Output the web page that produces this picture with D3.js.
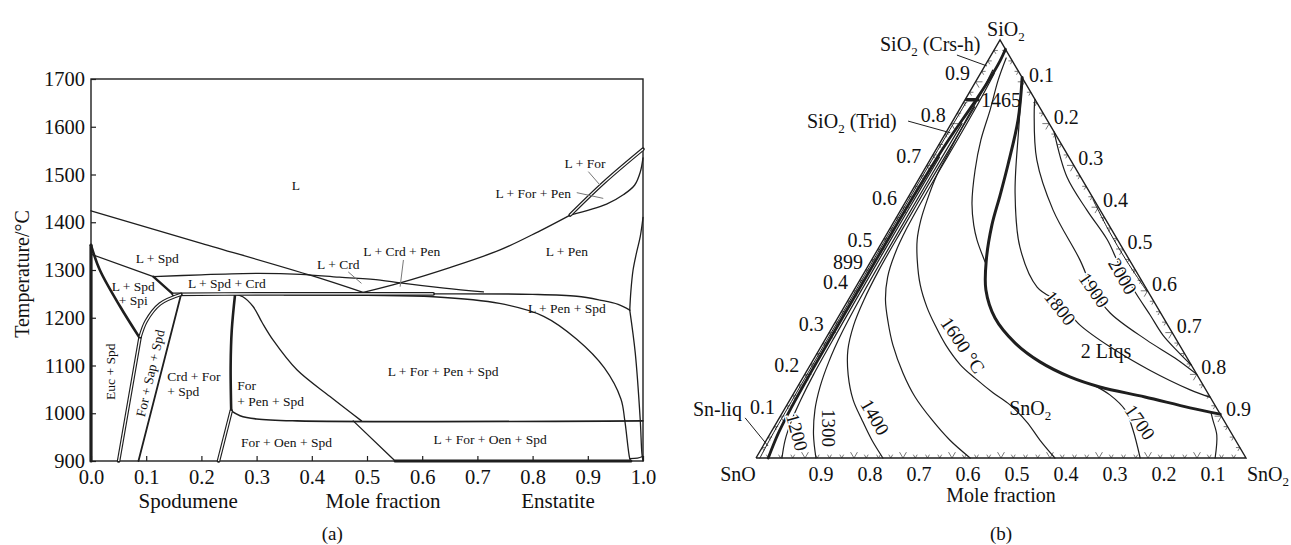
<!DOCTYPE html>
<html>
<head>
<meta charset="utf-8">
<script src="https://cdn.jsdelivr.net/npm/d3@7"></script>
<style>
  html,body{margin:0;padding:0;background:#fff;}
  svg text{font-family:"Liberation Serif","Times New Roman",Times,serif;fill:#111;}
</style>
</head>
<body>
<svg id="chart" width="1291" height="545"></svg>
<script>
// ================= Panel (a): Spodumene – Enstatite (x, T °C) =================
const tempTicks = [900,1000,1100,1200,1300,1400,1500,1600,1700];
const fracTicks = [0,0.1,0.2,0.3,0.4,0.5,0.6,0.7,0.8,0.9,1.0];
const axisNamesA = ["Spodumene","Mole fraction","Enstatite"];
const axisNamePosA = [0.176,0.529,0.846];

const liqLeft    = [[0,1424],[0.2,1356],[0.4,1288],[0.493,1253]];
const liqRight   = [[0.493,1253],[0.56,1273],[0.65,1305],[0.741,1342],[0.81,1380],[0.868,1415]];
const forLiq     = [[0.868,1415],[0.93,1484],[1.0,1553]];
const forPen     = [[0.868,1415],[0.934,1438],[0.965,1458],[0.985,1478],[0.995,1505],[1.0,1535]];
const penLiq     = [[1.0,1410],[0.995,1370],[0.988,1335],[0.982,1300],[0.978,1255],[0.976,1216]];
const penSolvus  = [[0.976,1216],[0.986,1126],[0.995,986],[0.998,916],[1.0,900]];
const penSpdTop  = [[0.6,1250],[0.8,1249],[0.88,1245],[0.922,1237],[0.955,1228],[0.976,1216]];
const eutectic   = [[0.149,1249],[0.3,1250],[0.5,1250],[0.62,1250]];
const penSpdDome = [[0.35,1248],[0.5,1247],[0.62,1244],[0.74,1230],[0.82,1203],[0.88,1155],[0.93,1095],[0.96,1030],[0.967,985],[0.976,905],[0.978,900]];
const crdTop     = [[0.113,1286],[0.2,1290],[0.3,1293],[0.38,1291],[0.45,1285],[0.524,1279],[0.56,1273],[0.64,1262],[0.711,1254]];
const spdLiq     = [[0,1333],[0.113,1286]];
const spdSpi     = [[0.113,1286],[0.149,1249]];
const spiLeft    = [[0,1352],[0.016,1300],[0.053,1223],[0.087,1160]];
const eucLine    = [[0.089,1160],[0.05,900]];
const sapTop     = [[0.089,1160],[0.1,1193],[0.125,1229],[0.163,1249]];
const crdForLine = [[0.163,1248],[0.086,900]];
const forPenVert = [[0.261,1249],[0.255,1174],[0.253,1100],[0.254,1005]];
const forPenLow  = [[0.254,1005],[0.231,900]];
const penDome    = [[0.261,1249],[0.275,1244],[0.294,1223],[0.31,1190],[0.33,1153],[0.373,1091],[0.433,1035],[0.49,984]];
const oenLine    = [[0.254,1005],[0.27,995],[0.3,988],[0.373,984],[1.0,984]];
const oenDiag    = [[0.475,984],[0.551,900]];
const bottomBand = [[0.551,900],[0.978,900]];
const cornerRight= [[0.976,905],[0.99,906],[1.0,910]];
const leftAxisBand = [[0,900],[0,1352]];

const phaseLabelsA = [
 ["L",0.371,1478,"middle",0],
 ["L + Spd",0.12,1324,"middle",0],
 ["L + Spd",0.0766,1265,"middle",0],
 ["+ Spi",0.0766,1237,"middle",0],
 ["L + Spd + Crd",0.246,1272,"middle",0],
 ["L + Crd",0.448,1313,"middle",0],
 ["L + Crd + Pen",0.563,1340,"middle",0],
 ["L + Pen",0.862,1340,"middle",0],
 ["L + Pen + Spd",0.862,1220,"middle",0],
 ["L + For",0.895,1523,"middle",0],
 ["L + For + Pen",0.801,1461,"middle",0],
 ["L + For + Pen + Spd",0.638,1087,"middle",0],
 ["L + For + Oen + Spd",0.723,945,"middle",0],
 ["For + Oen + Spd",0.354,940,"middle",0],
 ["For",0.265,1059,"start",0],
 ["+ Pen + Spd",0.265,1026,"start",0],
 ["Crd + For",0.138,1077,"start",0],
 ["+ Spd",0.138,1045,"start",0],
 ["Euc + Spd",0.0357,1087,"middle",-90],
 ["For + Sap + Spd",0.107,1084,"middle",-77]
];
const leadersA = [
 [[0.466,1296],[0.49,1272]],
 [[0.566,1321],[0.56,1265]],
 [[0.901,1506],[0.922,1478]],
 [[0.88,1462],[0.928,1450]]
];

// ================= Panel (b): SnO – SnO2 – SiO2 ternary ([xSnO2, xSiO2]) =================
const ternVertices = [[0,0],[1,0],[0,1]];       // SnO, SnO2, SiO2
const edgeLabelVals = [0.1,0.2,0.3,0.4,0.5,0.6,0.7,0.8,0.9];

const snLiqEdge = [[0.008,0],[0.006,0.05],[0.005,0.15],[0.004,0.4],[0.004,0.7],[0.005,0.85]];
const sio2Sat   = [[0.025,0],[0.016,0.06],[0.012,0.12],[0.01,0.2],[0.009,0.35],[0.009,0.5],[0.01,0.65],[0.014,0.76],[0.021,0.84],[0.025,0.9],[0.025,0.95],[0.022,0.978]];
const tie1465   = [[0.003,0.857],[0.026,0.857]];
const iso1200 = [[0.053,0],[0.038,0.043],[0.028,0.09],[0.022,0.14],[0.018,0.2],[0.016,0.3],[0.015,0.45],[0.015,0.6],[0.016,0.72]];
const iso1300 = [[0.1224,0],[0.09,0.055],[0.063,0.115],[0.046,0.17],[0.034,0.23],[0.026,0.3],[0.022,0.4],[0.021,0.55],[0.021,0.68],[0.022,0.8]];
const iso1400 = [[0.259,0],[0.215,0.043],[0.171,0.091],[0.129,0.139],[0.089,0.199],[0.059,0.258],[0.041,0.318],[0.032,0.378],[0.027,0.45],[0.026,0.55],[0.026,0.66],[0.027,0.76],[0.028,0.84]];
const iso1500 = [[0.437,0],[0.374,0.043],[0.314,0.091],[0.252,0.146],[0.199,0.203],[0.145,0.27],[0.109,0.323],[0.076,0.378],[0.053,0.433],[0.04,0.49],[0.034,0.55],[0.032,0.65],[0.032,0.75],[0.031,0.85],[0.028,0.92]];
const iso1600 = [[0.61,0],[0.558,0.043],[0.51,0.086],[0.455,0.127],[0.406,0.156],[0.352,0.191],[0.306,0.223],[0.253,0.27],[0.207,0.318],[0.169,0.361],[0.129,0.414],[0.093,0.474],[0.069,0.522],[0.053,0.569],[0.042,0.617],[0.032,0.677],[0.029,0.737],[0.026,0.804],[0.025,0.868],[0.021,0.928]];
const iso1700Up  = [[0.034,0.957],[0.044,0.904],[0.063,0.833],[0.08,0.761],[0.104,0.689],[0.137,0.61],[0.167,0.557],[0.191,0.522],[0.234,0.469]];
const iso1700Low = [[0.784,0],[0.736,0.067],[0.696,0.115],[0.647,0.151],[0.601,0.175]];
const twoLiq  = [[0.09,0.91],[0.132,0.809],[0.165,0.701],[0.185,0.629],[0.204,0.557],[0.234,0.474],[0.269,0.402],[0.321,0.335],[0.392,0.275],[0.465,0.23],[0.544,0.194],[0.617,0.17],[0.721,0.146],[0.826,0.12],[0.895,0.105]];
const innerRight = [[0.937,0],[0.913,0.055],[0.887,0.091],[0.875,0.108]];
const iso1800 = [[0.0905,0.9095],[0.142,0.792],[0.213,0.634],[0.287,0.505],[0.37,0.409],[0.436,0.371],[0.503,0.318],[0.59,0.266],[0.699,0.21],[0.805,0.163],[0.855,0.145]];
const iso1900 = [[0.142,0.858],[0.153,0.833],[0.218,0.713],[0.311,0.593],[0.425,0.474],[0.488,0.402],[0.55,0.347],[0.657,0.282],[0.736,0.239],[0.8,0.2]];
const iso2000 = [[0.22,0.78],[0.3,0.672],[0.38,0.593],[0.457,0.522],[0.505,0.469],[0.576,0.397],[0.634,0.342],[0.684,0.294],[0.735,0.254],[0.778,0.222]];
const edgeLens = [[0.38,0.618],[0.45,0.543],[0.52,0.473],[0.6,0.398]];

const isoLabelsB = [
 ["1200",0.053,0.062,75],
 ["1300",0.113,0.072,90],
 ["1400",0.194,0.098,60],
 ["1600 °C",0.288,0.27,56],
 ["1700",0.741,0.086,55],
 ["1800",0.442,0.359,52],
 ["1900",0.49,0.402,55],
 ["2000",0.532,0.435,60]
];
const leadersB = [
 [[-0.07,0.964],[0.004,0.938]],
 [[-0.091,0.806],[0.009,0.778]],
 [[-0.07,0.096],[0.010,0.029]]
];

// ================= drawing =================
const svg = d3.select("#chart");
const INK = "#1e1e1e";
const FONT = "Liberation Serif";

// ---------- panel (a) ----------
const xA = d3.scaleLinear().domain([0,1]).range([91,643]);
const yA = d3.scaleLinear().domain([900,1700]).range([461,79]);
const gA = svg.append("g");
const lineA = d3.line().x(d=>xA(d[0])).y(d=>yA(d[1])).curve(d3.curveCatmullRom.alpha(0.5));

gA.append("rect")
  .attr("x",xA(0)).attr("y",yA(1700))
  .attr("width",xA(1)-xA(0)).attr("height",yA(900)-yA(1700))
  .attr("fill","none").attr("stroke",INK).attr("stroke-width",1.4);

const styleAxis = size => g => {
  g.select(".domain").remove();
  g.attr("font-family",FONT).attr("font-size",size);
  g.selectAll(".tick line").attr("stroke",INK).attr("stroke-width",1.2);
  g.selectAll(".tick text").attr("fill","#111");
};
gA.append("g").attr("transform",`translate(${xA(0)},0)`)
  .call(d3.axisLeft(yA).tickValues(tempTicks).tickSizeInner(-5).tickSizeOuter(0).tickPadding(6).tickFormat(d3.format("d")))
  .call(styleAxis(20.5));
gA.append("g").attr("transform",`translate(0,${yA(900)})`)
  .call(d3.axisBottom(xA).tickValues(fracTicks).tickSizeInner(-5).tickSizeOuter(0).tickPadding(8).tickFormat(d3.format(".1f")))
  .call(styleAxis(20.5));

const curvesA = [
  {d:liqLeft,w:1.3},{d:liqRight,w:1.3},{d:forPen,w:1.3},{d:penLiq,w:1.3},
  {d:penSolvus,w:1.3},{d:penSpdTop,w:1.3},{d:penSpdDome,w:1.3},{d:crdTop,w:1.3},
  {d:spdLiq,w:1.3},{d:spdSpi,w:2.4},{d:spiLeft,w:2.6},{d:crdForLine,w:1.8},
  {d:forPenVert,w:2.6},{d:penDome,w:1.3},{d:oenLine,w:1.6},{d:oenDiag,w:1.3},
  {d:bottomBand,w:3},{d:cornerRight,w:1.3},{d:leftAxisBand,w:3.2},
  {d:forLiq,w:1.1,dbl:true},{d:eutectic,w:1.1,dbl:true},{d:eucLine,w:1.1,dbl:true},
  {d:sapTop,w:1.1,dbl:true},{d:forPenLow,w:1.1,dbl:true}
];
curvesA.forEach(c=>{
  if(c.dbl){
    gA.append("path").attr("d",lineA(c.d)).attr("fill","none").attr("stroke",INK).attr("stroke-width",3.6).attr("stroke-linecap","round");
    gA.append("path").attr("d",lineA(c.d)).attr("fill","none").attr("stroke","#fff").attr("stroke-width",1.3);
  } else {
    gA.append("path").attr("d",lineA(c.d)).attr("fill","none").attr("stroke",INK).attr("stroke-width",c.w).attr("stroke-linecap","round");
  }
});
leadersA.forEach(l=>{
  gA.append("path").attr("d",d3.line().x(d=>xA(d[0])).y(d=>yA(d[1]))(l))
    .attr("stroke","#777").attr("stroke-width",1).attr("fill","none");
});
phaseLabelsA.forEach(([t,x,T,anchor,rot])=>{
  const px = xA(x), py = yA(T);
  gA.append("text").text(t).attr("font-size",13.5).attr("text-anchor",anchor)
    .attr("dy","0.35em")
    .attr("transform",`translate(${px},${py}) rotate(${rot})`);
});
axisNamesA.forEach((t,i)=>{
  gA.append("text").text(t).attr("font-size",21).attr("text-anchor","middle")
    .attr("x",xA(axisNamePosA[i])).attr("y",508);
});
gA.append("text").text("Temperature/°C").attr("font-size",20).attr("text-anchor","middle")
  .attr("transform",`translate(29,${yA(1300)+4}) rotate(-90)`);
gA.append("text").text("(a)").attr("font-size",19).attr("text-anchor","middle")
  .attr("x",xA(0.437)).attr("y",540);

// ---------- panel (b) ----------
const gB = svg.append("g");
const tx = d3.scaleLinear().domain([0,1]).range([756,1246]);
const ty = d3.scaleLinear().domain([0,1]).range([458,40]);
const apexU = 0.498;
const P = d => [tx(d[0] + d[1]*apexU), ty(d[1])];
const lineB = d3.line().x(d=>P(d)[0]).y(d=>P(d)[1]).curve(d3.curveCatmullRom.alpha(0.5));
const segB  = d3.line().x(d=>P(d)[0]).y(d=>P(d)[1]);

// edge ticks
const tickG = gB.append("g").attr("stroke","#555").attr("stroke-width",0.8).attr("fill","none");
d3.range(1,40).forEach(i=>{
  const v = i/40, L = (i%4===0) ? 0.014 : 0.008;
  const segs = [
    [[v,0],[v,L]], [[v,0],[v-L,L]],
    [[0,v],[L,v]], [[0,v],[L,v-L]],
    [[v,1-v],[v-L,1-v]], [[v,1-v],[v,1-v-L]]
  ];
  segs.forEach(s=>tickG.append("path").attr("d",segB(s)));
});

// triangle
gB.append("path").attr("d",segB([...ternVertices,ternVertices[0]]))
  .attr("fill","none").attr("stroke",INK).attr("stroke-width",1.4).attr("stroke-linejoin","miter");

const curvesB = [
  {d:snLiqEdge,w:1},{d:iso1200,w:1.2},{d:iso1300,w:1.2},{d:iso1400,w:1.2},{d:iso1500,w:1.2},
  {d:iso1600,w:1.2},{d:iso1700Up,w:1.2},{d:iso1700Low,w:1.2},{d:innerRight,w:1.2},
  {d:iso1800,w:1.2},{d:iso1900,w:1.2},{d:iso2000,w:1.2},{d:edgeLens,w:1},
  {d:sio2Sat,w:2.8},{d:twoLiq,w:3},{d:tie1465,w:3.5}
];
curvesB.forEach(c=>{
  gB.append("path").attr("d",lineB(c.d)).attr("fill","none").attr("stroke",INK)
    .attr("stroke-width",c.w).attr("stroke-linecap","round").attr("stroke-linejoin","round");
});
leadersB.forEach(l=>{
  gB.append("path").attr("d",segB(l)).attr("stroke",INK).attr("stroke-width",1).attr("fill","none");
});

// edge labels
edgeLabelVals.forEach(v=>{
  const pb = P([1-v,0]);     // bottom: SnO fraction
  gB.append("text").text(v.toFixed(1)).attr("font-size",20).attr("text-anchor","middle")
    .attr("x",pb[0]+16).attr("y",pb[1]+16).attr("dy","0.35em");
  const pr = P([v,1-v]);     // right: SnO2 fraction
  gB.append("text").text(v.toFixed(1)).attr("font-size",20).attr("text-anchor","middle")
    .attr("x",pr[0]+17).attr("y",pr[1]-7).attr("dy","0.35em");
  const pl = P([0,v]);       // left: SiO2 fraction
  gB.append("text").text(v.toFixed(1)).attr("font-size",20).attr("text-anchor","middle")
    .attr("x",pl[0]-18).attr("y",pl[1]-9).attr("dy","0.35em");
});

// isotherm labels
isoLabelsB.forEach(([t,b,c,rot])=>{
  const p = P([b,c]);
  gB.append("text").text(t).attr("font-size",19).attr("text-anchor","middle").attr("dy","0.35em")
    .attr("stroke","#fff").attr("stroke-width",3).attr("paint-order","stroke")
    .attr("transform",`translate(${p[0]},${p[1]}) rotate(${rot})`);
});

function chem(x,y,segs,anchor,size){
  const t = gB.append("text").attr("x",x).attr("y",y).attr("font-size",size||20).attr("text-anchor",anchor||"start");
  let low=false;
  segs.forEach(([s,sub])=>{
    const ts = t.append("tspan").text(s);
    if(sub){ ts.attr("font-size",13).attr("dy",5); low=true; }
    else if(low){ ts.attr("dy",-5); low=false; }
  });
  return t;
}
const vA = P(ternVertices[0]), vB = P(ternVertices[1]), vC = P(ternVertices[2]);
chem(vC[0]-13, vC[1]-4, [["SiO",0],["2",1]]);
chem(vA[0]-18, vA[1]+23, [["SnO",0]], "middle");
chem(vB[0]+1, vB[1]+23, [["SnO",0],["2",1]]);
chem(880, 51, [["SiO",0],["2",1],[" (Crs-h)",0]]);
chem(807, 128, [["SiO",0],["2",1],[" (Trid)",0]]);
chem(693, 416, [["Sn-liq",0]]);
const p899 = P([-0.046,0.469]);
chem(p899[0], p899[1]+7, [["899",0]], "middle");
const p1465 = P([0.0735,0.8565]);
chem(p1465[0], p1465[1]+7, [["1465",0]], "middle");
const pLiq = P([0.587,0.256]);
chem(pLiq[0], pLiq[1]+7, [["2 Liqs",0]], "middle");
const pSnO2 = P([0.50,0.12]);
chem(pSnO2[0], pSnO2[1]+7, [["SnO",0],["2",1]], "middle");
chem(tx(0.5), 502, [["Mole fraction",0]], "middle");
chem(tx(0.5), 540, [["(b)",0]], "middle", 19);
</script>
</body>
</html>
